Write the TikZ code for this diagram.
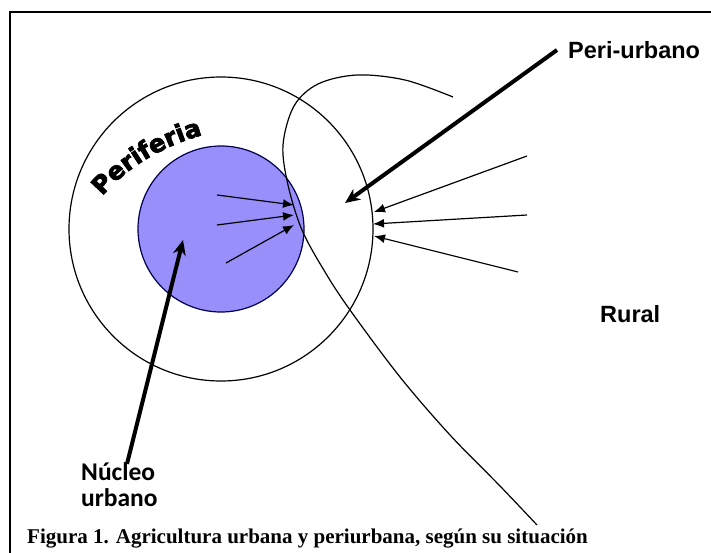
\documentclass[tikz,border=0pt]{standalone}
\usepackage{fontspec}
\setmainfont{Liberation Serif}
\newfontfamily\labelfont{Liberation Sans}
\newfontfamily\nucleofont{Carlito}
\newfontfamily\heavyfont{DejaVu Sans}[UprightFont={* Bold},FakeBold=3]
\newcommand\periferiafont{\heavyfont\fontsize{24.5}{24.5}\selectfont}
\usetikzlibrary{arrows.meta,decorations.text}
\definecolor{nucleo}{RGB}{153,143,250}

\begin{document}
\begin{tikzpicture}[x=1pt,y=-1pt,>={Latex[length=11pt,width=9pt]},
  ring/.style={line width=1.2pt},
  thinarrow/.style={->,line width=1.2pt},
  thickarrow/.style={-{Stealth[length=15pt,width=13pt]},line width=4pt},
  zonelabel/.style={font=\labelfont\bfseries\fontsize{23.5}{26}\selectfont,inner sep=0pt}]
\useasboundingbox (0,0) rectangle (711,553);
\draw[line width=2.5pt] (10,553) -- (10,12) -- (711,12);
% zonas
\draw[ring] (221,229) circle[radius=152];
\draw[ring,draw=black!70!blue,fill=nucleo] (221,229) circle[radius=83];
\draw[ring] plot[smooth,tension=0.55] coordinates {(453,97) (405,80) (357,75) (318,84) (294,106) (283,145) (288,185) (302,230) (325,272) (350,310) (400,377) (450,435) (500,486) (537,525)};
\path[decorate,decoration={text effects along path,text={Periferia},text align=center,
  text effects/.cd,text along path,every character/.style={font=\periferiafont,inner sep=0pt}}]
  (97,203) .. controls (123,168) and (167,143) .. (211,133);
% etiquetas
\node[zonelabel,anchor=west] (peri) at (568,50) {Peri-urbano};
\node[zonelabel,anchor=base west] (rural) at (600,322) {Rural};
\node[font=\nucleofont\bfseries\fontsize{25.5}{26}\selectfont,align=left,inner sep=0pt,anchor=base west] (nucleo) at (81,506) {Núcleo\\urbano};
\node[font=\bfseries\fontsize{21}{22}\selectfont,inner sep=0pt,anchor=base west] (caption) at (27,543) {Figura 1. Agricultura urbana y periurbana, según su situación};
% flechas gruesas
\coordinate (periTip) at (345,203);
\coordinate (nucleoTip) at (183,240);
\draw[thickarrow] ([xshift=-11pt]peri.west) -- (periTip);
\draw[thickarrow] ([xshift=46pt,yshift=-2pt]nucleo.north west) -- (nucleoTip);
% flechas finas hacia el borde
\coordinate (in1) at (217,195);
\coordinate (in2) at (217,225);
\coordinate (in3) at (226,263);
\coordinate (inTip1) at (294,205);
\coordinate (inTip2) at (294,215);
\coordinate (inTip3) at (294,225);
\draw[thinarrow] (in1) -- (inTip1);
\draw[thinarrow] (in2) -- (inTip2);
\draw[thinarrow] (in3) -- (inTip3);
\coordinate (out1) at (527,156);
\coordinate (out2) at (527,215);
\coordinate (out3) at (518,272);
\coordinate (outTip1) at (374,212);
\coordinate (outTip2) at (373,224);
\coordinate (outTip3) at (374,236);
\draw[thinarrow] (out1) -- (outTip1);
\draw[thinarrow] (out2) -- (outTip2);
\draw[thinarrow] (out3) -- (outTip3);
\end{tikzpicture}
\end{document}
